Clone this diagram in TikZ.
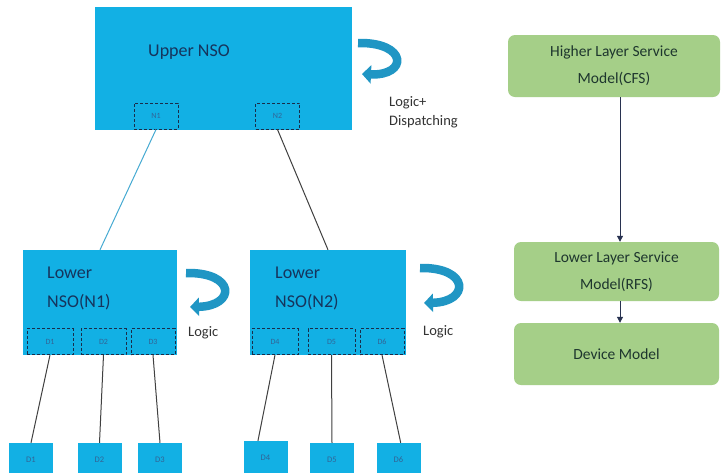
\documentclass[tikz,border=0pt]{standalone}
\usepackage{fontspec}
\setmainfont{Carlito}
\usetikzlibrary{arrows.meta,calc}
\definecolor{nsoblue}{RGB}{18,176,228}
\definecolor{nsotext}{RGB}{22,52,92}
\definecolor{smalltext}{RGB}{50,100,150}
\definecolor{curl}{RGB}{32,150,196}
\definecolor{mgreen}{RGB}{165,207,136}
\definecolor{gtext}{RGB}{30,54,46}
\definecolor{navy}{RGB}{40,50,80}
\definecolor{dashc}{RGB}{25,45,75}
\definecolor{linkblue}{RGB}{70,170,210}
\tikzset{
  nsobox/.style={fill=nsoblue, draw=none, minimum width=#1},
  dbox/.style={fill=nsoblue, draw=dashc, dash pattern=on 3pt off 2pt, line width=1pt, minimum height=26pt, minimum width=#1, font=\fontsize{8}{9}\selectfont, text=smalltext},
  leaf/.style={fill=nsoblue, draw=none, minimum width=44pt, minimum height=33pt, font=\fontsize{8.5}{9}\selectfont, text=smalltext},
  nsolabel/.style={font=\fontsize{18}{29}\selectfont, text=nsotext, align=left, anchor=west, inner sep=0pt},
  sidelabel/.style={font=\fontsize{14.5}{19}\selectfont, text=black!80, align=left, anchor=west, inner sep=0pt},
  model/.style={fill=mgreen, draw=none, rounded corners=7pt, font=\fontsize{15.5}{27}\selectfont, text=gtext, align=center},
  curlarrow/.style={draw=curl, line width=8.5pt, -{Triangle[width=18pt,length=9pt]}},
  wire/.style={draw=black!75, line width=1pt},
  down/.style={draw=navy, line width=1pt, -{Triangle[width=6pt,length=6pt]}}
}
\begin{document}
\begin{tikzpicture}[x=1pt,y=-1pt]
\clip (0,0) rectangle (721,472);
\fill[white] (0,0) rectangle (721,472);

% Upper NSO
\node[nsobox=257pt, minimum height=123pt] (upper) at (223.5,68.5) {};
\node[nsolabel] (upperlbl) at (148,52) {Upper NSO};
\node[dbox=44pt] (n1) at (156,116) {N1};
\node[dbox=44pt] (n2) at (277.5,116) {N2};
\draw[curlarrow] (358,43) .. controls (408,42) and (408,76) .. (362,74);
\node[sidelabel] (logdisp) at (389,112) {Logic+\\Dispatching};

% Lower NSO N1
\node[nsobox=154pt, minimum height=105pt] (low1) at (100,302.5) {};
\node[nsolabel] (low1lbl) at (47,288) {Lower\\NSO(N1)};
\node[dbox=46pt] (d1) at (50,341.5) {D1};
\node[dbox=45pt] (d2) at (103.5,341.5) {D2};
\node[dbox=44pt] (d3) at (153,341.5) {D3};
\draw[curlarrow] (186,273) .. controls (236,272) and (236,306) .. (190,307);
\node[sidelabel] (logic1) at (188,333) {Logic};

% Lower NSO N2
\node[nsobox=156pt, minimum height=105pt] (low2) at (328,302.5) {};
\node[nsolabel] (low2lbl) at (275,288) {Lower\\NSO(N2)};
\node[dbox=46pt] (d4) at (275,341.5) {D4};
\node[dbox=47pt] (d5) at (331.5,341.5) {D5};
\node[dbox=44pt] (d6) at (382,341.5) {D6};
\draw[curlarrow] (420,268) .. controls (470,267) and (470,302) .. (424,303);
\node[sidelabel] (logic2) at (423,332) {Logic};

% leaves
\node[leaf] (b1) at (31,459.5) {D1};
\node[leaf] (b2) at (99.5,459.5) {D2};
\node[leaf] (b3) at (160,459.5) {D3};
\node[leaf] (b4) at (265.5,457.5) {D4};
\node[leaf] (b5) at (332,459.5) {D5};
\node[leaf] (b6) at (398.5,459.5) {D6};

% links
\draw[draw=linkblue, line width=1pt] (n1.south) -- (low1.north);
\draw[wire] (n2.south) -- (low2.north);
\draw[wire] (d1.south) -- (b1.north);
\draw[wire] (d2.south) -- (b2.north);
\draw[wire] (d3.south) -- (b3.north);
\draw[wire] (d4.south) -- ($(b4.north west)!0.33!(b4.north east)$);
\draw[wire] (d5.south) -- (b5.north);
\draw[wire] (d6.south) -- ($(b6.north west)!0.55!(b6.north east)$);

% right column
\node[model, minimum width=212pt, minimum height=62pt] (hl) at (614,66) {Higher Layer Service\\Model(CFS)};
\node[model, minimum width=205pt, minimum height=59pt] (ll) at (616.5,271.5) {Lower Layer Service\\Model(RFS)};
\node[model, minimum width=205pt, minimum height=62pt] (dm) at (616.5,354) {Device Model};
\coordinate (axis) at (620,0);
\draw[down] (hl.south -| axis) -- (ll.north -| axis);
\draw[down] (ll.south -| axis) -- (dm.north -| axis);
\end{tikzpicture}
\end{document}
